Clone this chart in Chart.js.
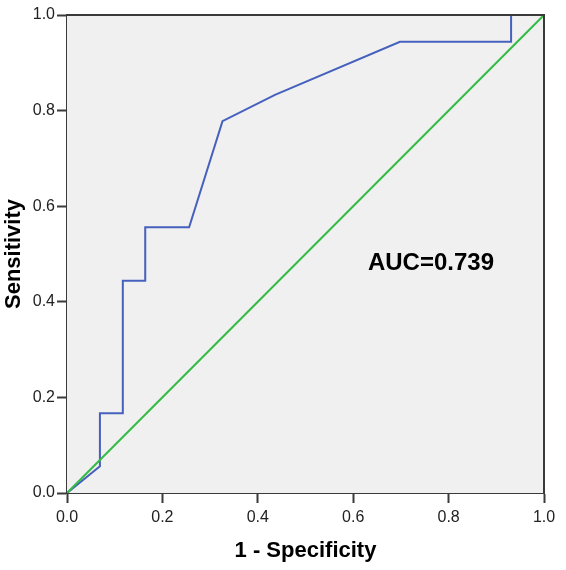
<!DOCTYPE html>
<html>
<head>
<meta charset="utf-8">
<script src="https://cdn.jsdelivr.net/npm/chart.js@4.4.1/dist/chart.umd.min.js"></script>
<style>
  html, body { margin: 0; padding: 0; background: #fff; }
  canvas { display: block; }
</style>
</head>
<body>
<canvas id="roc" width="566" height="570"></canvas>
<script>
// ROC curve points (1 - specificity, sensitivity)
var fpr = [0, 0.069, 0.069, 0.117, 0.117, 0.164, 0.164, 0.256, 0.326, 0.436, 0.698, 0.931, 0.931, 1.0];
var tpr = [0, 0.056, 0.167, 0.167, 0.444, 0.444, 0.556, 0.556, 0.778, 0.833, 0.944, 0.944, 1.0, 1.0];

// reference line
var refX = [0, 1];
var refY = [0, 1];

var tickValues = [0, 0.2, 0.4, 0.6, 0.8, 1.0];
var aucLabel = 'AUC=0.739';

var rocPoints = fpr.map(function(x, i){ return {x: x, y: tpr[i]}; });
var refPoints = refX.map(function(x, i){ return {x: x, y: refY[i]}; });

var axisColor = '#3a3a3a';

// gray plot background, top/right frame and the AUC note
var plotDecor = {
  id: 'plotDecor',
  beforeDatasetsDraw: function(chart){
    var a = chart.chartArea, ctx = chart.ctx;
    ctx.save();
    ctx.fillStyle = '#f0f0f0';
    ctx.fillRect(a.left, a.top, a.right - a.left, a.bottom - a.top);
    ctx.restore();
  },
  afterDatasetsDraw: function(chart){
    var a = chart.chartArea, ctx = chart.ctx;
    ctx.save();
    ctx.strokeStyle = axisColor;
    ctx.lineWidth = 2;
    ctx.beginPath();
    ctx.moveTo(a.left, a.top);
    ctx.lineTo(a.right, a.top);
    ctx.lineTo(a.right, a.bottom);
    ctx.stroke();

    var xs = chart.scales.x, ys = chart.scales.y;
    ctx.fillStyle = '#000';
    ctx.font = 'bold 24px "Liberation Sans", Arial, sans-serif';
    ctx.textAlign = 'center';
    ctx.textBaseline = 'middle';
    ctx.fillText(aucLabel, xs.getPixelForValue(0.763), ys.getPixelForValue(0.48));
    ctx.restore();
  }
};

var tickFont = { family: '"Liberation Sans", Arial, sans-serif', size: 16 };
var titleFont = { family: '"Liberation Sans", Arial, sans-serif', size: 22, weight: 'bold' };

new Chart(document.getElementById('roc'), {
  type: 'scatter',
  data: {
    datasets: [
      {
        data: refPoints,
        showLine: true,
        borderColor: '#33bb44',
        borderWidth: 2,
        pointRadius: 0,
        fill: false
      },
      {
        data: rocPoints,
        showLine: true,
        borderColor: '#4560bd',
        borderWidth: 2,
        pointRadius: 0,
        fill: false
      }
    ]
  },
  options: {
    responsive: false,
    animation: false,
    layout: { padding: { top: 15, right: 22, left: 0, bottom: 0 } },
    plugins: {
      legend: { display: false },
      tooltip: { enabled: false }
    },
    scales: {
      x: {
        type: 'linear',
        min: 0, max: 1,
        afterFit: function(s){ s.height = 77; },
        afterBuildTicks: function(s){ s.ticks = tickValues.map(function(v){ return {value: v}; }); },
        ticks: {
          color: '#222',
          font: tickFont,
          padding: 5,
          maxRotation: 0,
          callback: function(v){ return v.toFixed(1); }
        },
        grid: { drawOnChartArea: false, drawTicks: true, tickLength: 10, tickColor: axisColor, tickWidth: 2 },
        border: { display: true, color: axisColor, width: 2 },
        title: { display: true, text: '1 - Specificity', color: '#000', font: titleFont, padding: { top: 0, bottom: 6 } }
      },
      y: {
        type: 'linear',
        min: 0, max: 1,
        afterFit: function(s){ s.width = 67; },
        afterBuildTicks: function(s){ s.ticks = tickValues.map(function(v){ return {value: v}; }); },
        ticks: {
          color: '#222',
          font: tickFont,
          padding: 2,
          callback: function(v){ return v.toFixed(1); }
        },
        grid: { drawOnChartArea: false, drawTicks: true, tickLength: 10, tickColor: axisColor, tickWidth: 2 },
        border: { display: true, color: axisColor, width: 2 },
        title: { display: true, text: 'Sensitivity', color: '#000', font: titleFont, padding: { top: 1, bottom: 0 } }
      }
    }
  },
  plugins: [plotDecor]
});
</script>
</body>
</html>
